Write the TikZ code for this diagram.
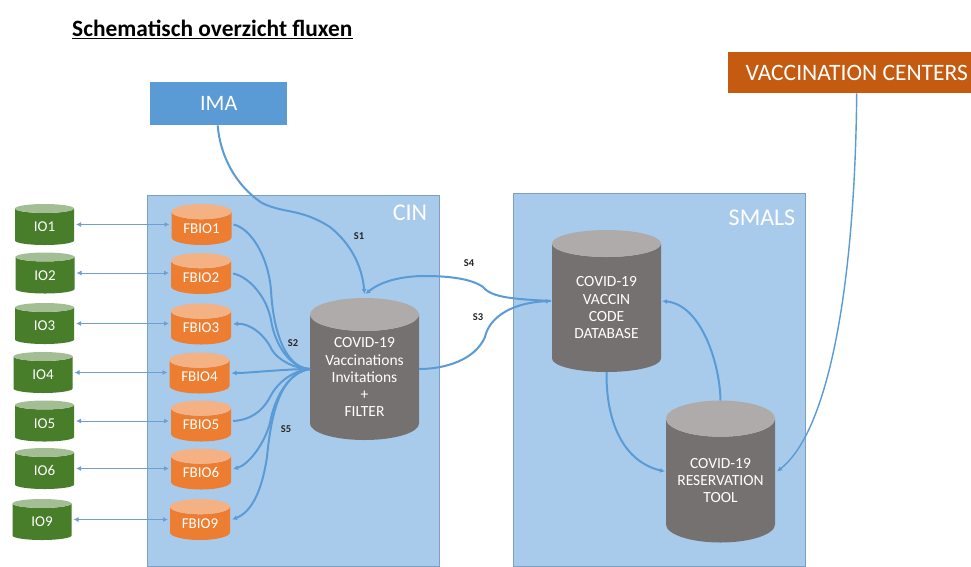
\documentclass[tikz,border=0pt]{standalone}
\usepackage{fontspec}
\setmainfont{Carlito}
\usetikzlibrary{shapes.geometric,arrows.meta}
\definecolor{regionfill}{HTML}{A9CBEB}
\definecolor{regionedge}{HTML}{7F9FC2}
\definecolor{flow}{HTML}{5B9BD5}
\definecolor{flowthin}{HTML}{6E9FD0}
\definecolor{orangebody}{HTML}{ED7D31}
\definecolor{orangetop}{HTML}{F4B183}
\definecolor{greenbody}{HTML}{487D2A}
\definecolor{greentop}{HTML}{A3BE95}
\definecolor{greybody}{HTML}{767171}
\definecolor{greytop}{HTML}{AFABAB}
\definecolor{imablue}{HTML}{5B9BD5}
\definecolor{vcorange}{HTML}{C55A11}
\tikzset{
  x=1pt,y=-1pt,
  dbcyl/.style={cylinder,shape border rotate=90,cylinder uses custom fill,
    inner sep=0pt,outer sep=0pt,align=center,text=white,anchor=shape center},
  iodb/.style={dbcyl,cylinder body fill=greenbody,cylinder end fill=greentop,
    minimum width=59pt,minimum height=41pt,aspect=0.42,font=\fontsize{15}{16}\selectfont},
  fbdb/.style={dbcyl,cylinder body fill=orangebody,cylinder end fill=orangetop,
    minimum width=60pt,minimum height=41pt,aspect=0.42,font=\fontsize{15}{16}\selectfont},
  bigdb/.style={dbcyl,cylinder body fill=greybody,cylinder end fill=greytop,
    minimum width=109pt,minimum height=142pt,aspect=0.42,font=\fontsize{15.5}{17.3}\selectfont},
  region/.style={draw=regionedge,fill=regionfill,line width=0.8pt,minimum width=292pt,anchor=north west,inner sep=0pt},
  regionlabel/.style={text=white,font=\fontsize{24}{25}\selectfont,inner sep=0pt},
  flowline/.style={draw=flow,line width=2pt,-{Latex[length=5pt,width=5pt]}},
  flowback/.style={draw=flow,line width=2pt,{Latex[length=5pt,width=5pt]}-},
  flowplain/.style={draw=flow,line width=2pt},
  link/.style={draw=flowthin,line width=0.9pt,{Latex[length=5pt,width=5pt]}-{Latex[length=5pt,width=5pt]}},
  fluxlabel/.style={font=\bfseries\fontsize{10.5}{11}\selectfont,text=black!85,inner sep=0pt},
  banner/.style={inner sep=0pt,text=white,anchor=north west}
}
\begin{document}
\begin{tikzpicture}
\useasboundingbox[fill=white] (0,0) rectangle (971,566);
\node[anchor=west,inner sep=0pt,font=\bfseries\fontsize{23.4}{25}\selectfont] (title) at (72,29) {\underline{Schematisch overzicht fluxen}};
\node[region,minimum height=371pt] (cin) at (147,195) {};
\node[region,minimum height=373pt] (smals) at (513,193) {};
\node[regionlabel] (cinlabel) at (410,213) {CIN};
\node[regionlabel] (smalslabel) at (762,218) {SMALS};
\node[banner,fill=imablue,minimum width=137pt,minimum height=43pt,font=\fontsize{22}{23}\selectfont] (ima) at (150,82) {IMA};
\node[banner,fill=vcorange,minimum width=243pt,minimum height=41pt,font=\fontsize{23.5}{24}\selectfont] (vc) at (728,52) {\hspace*{14pt}VACCINATION CENTERS};
\node[iodb] (io1) at (44.5,224.5) {IO1};
\node[iodb] (io2) at (45,273) {IO2};
\node[iodb] (io3) at (44.5,323.5) {IO3};
\node[iodb] (io4) at (43,372.5) {IO4};
\node[iodb] (io5) at (44.5,421) {IO5};
\node[iodb] (io6) at (44.5,468.5) {IO6};
\node[iodb] (io9) at (42,519.5) {IO9};
\node[fbdb] (fb1) at (201.5,224.5) {FBIO1};
\node[fbdb] (fb2) at (201,273.5) {FBIO2};
\node[fbdb] (fb3) at (201,324) {FBIO3};
\node[fbdb] (fb4) at (199.5,373) {FBIO4};
\node[fbdb] (fb5) at (201,421) {FBIO5};
\node[fbdb] (fb6) at (201,469) {FBIO6};
\node[fbdb] (fb9) at (200,519.5) {FBIO9};
\node[bigdb] (main) at (364.5,369) {COVID-19\\Vaccinations\\Invitations\\+\\FILTER};
\node[bigdb] (code) at (606.5,301) {COVID-19\\VACCIN\\CODE\\DATABASE};
\node[bigdb] (tool) at (720.5,471.5) {COVID-19\\RESERVATION\\TOOL};
\foreach \n in {1,2,3,4,5,6,9} {
  \coordinate (fb\n w) at ([xshift=-2pt]fb\n.shape center -| fb\n.west);
  \coordinate (fb\n e) at ([xshift=2pt]fb\n.shape center -| fb\n.east);
  \coordinate (io\n e) at ([xshift=2pt]io\n.shape center -| io\n.east);
  \draw[link] (io\n e) -- (io\n e -| fb\n w);
}
\coordinate (mainw) at (main.shape center -| main.west);
\coordinate (maine) at (main.shape center -| main.east);
\coordinate (codew) at ([xshift=-1pt]code.shape center -| code.west);
\coordinate (codee) at ([xshift=1pt]code.shape center -| code.east);
\coordinate (toolw) at ([xshift=-1pt]tool.shape center -| tool.west);
\coordinate (toole) at ([xshift=2pt]tool.shape center -| tool.east);
\draw[flowplain] (fb1e) .. controls (250,228) and (268,255) .. (271,290) .. controls (273,330) and (285,368) .. (mainw);
\draw[flowplain] (fb2e) .. controls (250,277) and (267,298) .. (271,320) .. controls (275,345) and (290,368) .. (mainw);
\draw[flowback] (fb3e) .. controls (250,323) and (265,335) .. (272,350) .. controls (278,360) and (295,369) .. (mainw);
\draw[flowback] (fb4e) .. controls (250,373) and (285,369) .. (mainw);
\draw[flowplain] (fb5e) .. controls (250,420) and (262,412) .. (270,397) .. controls (276,385) and (290,371) .. (mainw);
\draw[flowback] (fb6e) .. controls (248,465) and (264,445) .. (270,423) .. controls (275,395) and (290,372) .. (mainw);
\draw[flowback] (fb9e) .. controls (252,512) and (262,490) .. (267,457) .. controls (271,415) and (280,373) .. (mainw);
\draw[flowline] ([xshift=-1pt]ima.south) .. controls (220,155) and (235,185) .. (262,203) .. controls (285,214) and (300,208) .. (330,227) .. controls (350,243) and (362,265) .. ([yshift=4pt]main.north);
\draw[flowback] ([xshift=1pt,yshift=4pt]main.north) .. controls (380,282) and (400,276) .. (425,276) .. controls (450,276) and (472,279) .. (483,287) .. controls (492,298) and (515,299) .. (codew);
\draw[flowline] (maine) .. controls (445,369) and (475,360) .. (485,337) .. controls (488,322) and (505,303) .. (codew);
\draw[flowline] (tool.north) .. controls (720,365) and (702,305) .. (codee);
\draw[flowline] (code.south) .. controls (606,425) and (625,462) .. (toolw);
\draw[flowline,line width=1.4pt] ([xshift=7pt]vc.south) .. controls (855,280) and (830,430) .. (toole);
\node[fluxlabel] (s1) at (359,236) {S1};
\node[fluxlabel] (s2) at (293,343) {S2};
\node[fluxlabel] (s5) at (286,429) {S5};
\node[fluxlabel] (s4) at (469,263) {S4};
\node[fluxlabel] (s3) at (478,317) {S3};
\end{tikzpicture}
\end{document}
